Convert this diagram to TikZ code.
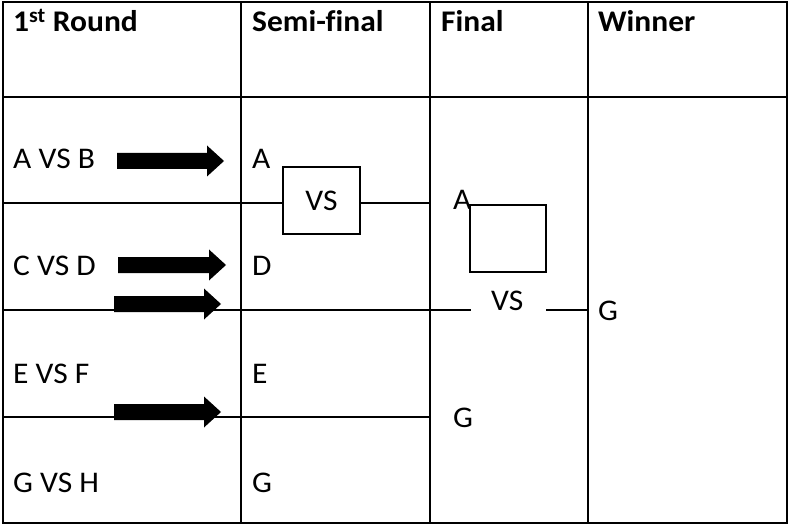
\documentclass[tikz,border=0pt]{standalone}
\usepackage{fontspec}
\setmainfont{Carlito}[FakeStretch=1.05,Ligatures=NoCommon]
\begin{document}
\begin{tikzpicture}[x=1pt,y=-1pt,
  grid/.style={line width=1.8pt,line cap=rect},
  thin box/.style={draw,line width=1.2pt,inner sep=0pt,minimum width=77pt,minimum height=67pt},
  hdr/.style={anchor=base west,inner sep=0pt,font=\fontsize{30}{32}\selectfont\bfseries},
  txt/.style={anchor=base west,inner sep=0pt,font=\fontsize{30}{32}\selectfont},
  blockarrow/.style={fill=black}]
\useasboundingbox (0,0) rectangle (788,524);
% table grid
\draw[grid] (3,2) rectangle (787,523);
\draw[grid] (241,2) -- (241,523);
\draw[grid] (430,2) -- (430,523);
\draw[grid] (588,2) -- (588,523);
\draw[grid] (3,97) -- (787,97);
\draw[grid] (3,203) -- (241,203);
\draw[grid] (3,310) -- (430,310);
\draw[grid] (3,417) -- (430,417);
% headers
\node[hdr] (h1) at (13,32) {1\textsuperscript{st} Round};
\node[hdr] (h2) at (252,32) {Semi-final};
\node[hdr] (h3) at (441,32) {Final};
\node[hdr] (h4) at (598,32) {Winner};
% first round
\node[txt] (ab) at (13,169) {A VS B};
\node[txt] (cd) at (13,275) {C VS D};
\node[txt] (ef) at (13,383) {E VS F};
\node[txt] (gh) at (13,492) {G VS H};
% semi-final
\node[txt] (sa) at (252,169) {A};
\node[txt] (sd) at (252,275) {D};
\node[txt] (se) at (252,383) {E};
\node[txt] (sg) at (252,492) {G};
\node[thin box,font=\fontsize{30}{32}\selectfont] (svs) at (321.5,200.5) {VS};
\coordinate (sl) at (241,203);
\coordinate (sr) at (430,203);
\draw[grid,line cap=butt] (sl) -- (sl -| svs.west);
\draw[grid,line cap=butt] (svs.east |- sr) -- (sr);
% final
\node[thin box,minimum width=76pt] (fbox) at (508,238.5) {};
\node[txt] (fa) at (453,210) {A};
\node[txt] (fvs) at (491,310) {VS};
\node[txt] (fg) at (453,427) {G};
\coordinate (fl) at (430,310);
\coordinate (fr) at (588,310);
\coordinate (fvl) at (471,310);
\coordinate (fvr) at (546,310);
\draw[grid,line cap=butt] (fl) -- (fvl);
\draw[grid,line cap=butt] (fvr) -- (fr);
% winner
\node[txt] (wg) at (598,320) {G};
% block arrows
\newcommand\blockarr[3]{%
  \fill[blockarrow] (#1,#3-8) -- (#2-17,#3-8) -- (#2-17,#3-15.5) -- (#2,#3)
    -- (#2-17,#3+15.5) -- (#2-17,#3+8) -- (#1,#3+8) -- cycle;}
\blockarr{117}{224}{161}
\blockarr{118}{226}{265}
\blockarr{114}{221}{304}
\blockarr{114}{221}{412}
\end{tikzpicture}
\end{document}
